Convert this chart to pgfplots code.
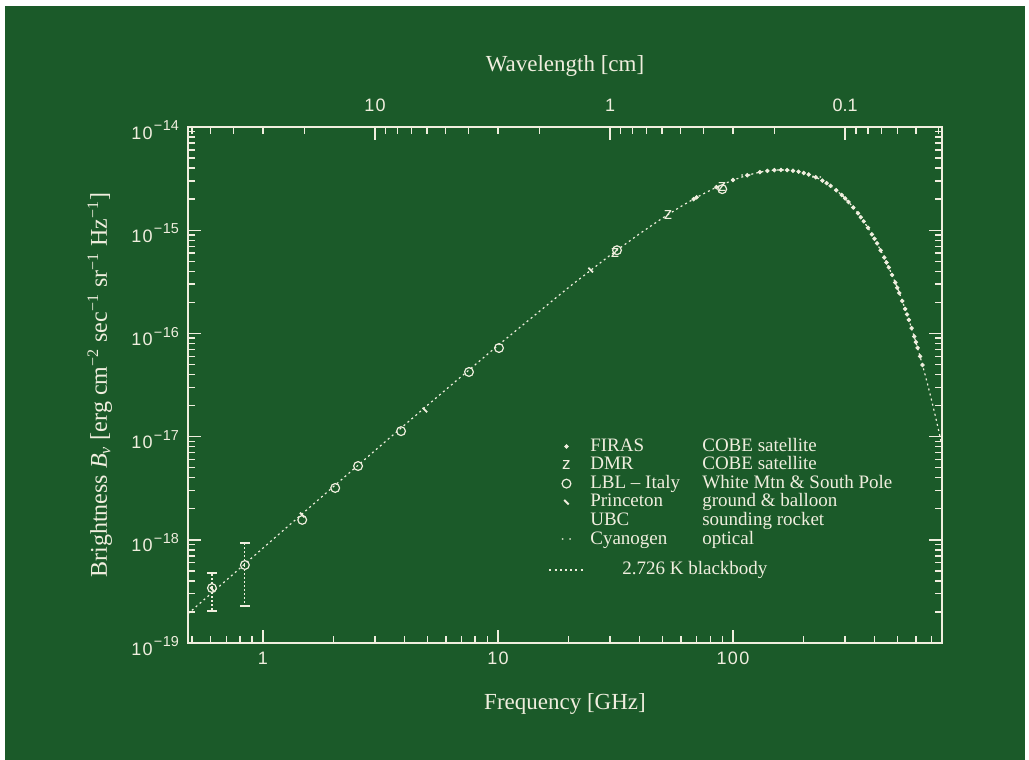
\documentclass[border=0pt]{standalone}
\usepackage{fontspec}
\setmainfont{Liberation Serif}
\newfontfamily\hel{Liberation Sans}
\usepackage{pgfplots}
\pgfplotsset{compat=1.18}
\definecolor{bg}{RGB}{27,90,41}
\definecolor{fg}{RGB}{240,238,222}
\newcommand{\tl}[1]{1\kern0.7pt0\raisebox{4.2pt}{\fontsize{7.2}{7.2}\selectfont\kern0.6pt−\kern0.3pt#1}}

\begin{document}
\begin{tikzpicture}
\path[use as bounding box, fill=white] (-94pt,-58.5pt) rectangle (420.5pt,321.5pt);
\fill[bg] (-91.5pt,-58.5pt) rectangle (418.5pt,318.5pt);
\begin{axis}[
  at={(0pt,0pt)}, anchor=south west,
  scale only axis, width=377pt, height=258pt,
  xmode=log, ymode=log,
  xmin=0.48, xmax=775, ymin=1e-19, ymax=1e-14,
  axis line style={fg, line width=1pt},
  every tick/.style={fg, line width=0.7pt},
  major tick length=6.5pt, minor tick length=3.5pt,
  tick align=inside,
  xtick pos=left,
  xtick={1,10,100}, xticklabels={1,1\kern0.7pt0,1\kern0.7pt0\kern0.7pt0},
  minor xtick={0.5,0.6,0.7,0.8,0.9,2,3,4,5,6,7,8,9,20,30,40,50,60,70,80,90,200,300,400,500,600,700},
  ytick={1e-19,1e-18,1e-17,1e-16,1e-15,1e-14},
  yticklabels={\tl{19},\tl{18},\tl{17},\tl{16},\tl{15},\tl{14}},
  minor ytick={2e-19,3e-19,4e-19,5e-19,6e-19,7e-19,8e-19,9e-19,
               2e-18,3e-18,4e-18,5e-18,6e-18,7e-18,8e-18,9e-18,
               2e-17,3e-17,4e-17,5e-17,6e-17,7e-17,8e-17,9e-17,
               2e-16,3e-16,4e-16,5e-16,6e-16,7e-16,8e-16,9e-16,
               2e-15,3e-15,4e-15,5e-15,6e-15,7e-15,8e-15,9e-15},
  tick label style={font=\hel\fontsize{9}{10}\selectfont, text=fg},
  xticklabel style={yshift=-1pt},
  yticklabel style={xshift=-1pt, yshift=-1.5pt},
  xlabel={Frequency [GHz]},
  xlabel style={at={(axis description cs:0.5,-0.118)}, anchor=center, font=\fontsize{11.5}{13}\selectfont, text=fg},
  ylabel={Brightness \textit{B}\textsubscript{\textit{ν}} [erg cm\textsuperscript{−2} sec\textsuperscript{−1} sr\textsuperscript{−1} Hz\textsuperscript{−1}]},
  ylabel style={at={(axis description cs:-0.117,0.5)}, anchor=center, rotate=0, font=\fontsize{12}{14}\selectfont, text=fg},
  legend cell align=left,
  legend style={at={(rel axis cs:0.478,0.40)}, anchor=north west, draw=none, fill=none, text=fg,
    font=\fontsize{9.5}{10}\selectfont, row sep=-0.1pt, inner sep=0pt,
    nodes={inner sep=0.6pt, text height=6.4pt, text depth=1.8pt}},
]
% 2.726 K blackbody curve
\addplot[fg, line width=0.6pt, dash pattern=on 1pt off 1.6pt, forget plot] coordinates {
(0.48,1.9214e-19) (0.6,2.999e-19) (0.8,5.3224e-19) (1,8.301e-19) (2,3.2914e-18) (3,7.3402e-18)
(5,2.0030e-17) (10,7.659e-17) (20,2.7948e-16) (30,5.7214e-16) (40,9.2308e-16) (50,1.30567e-15)
(60,1.6978e-15) (70,2.0817e-15) (85,2.6125e-15) (100,3.0617e-15) (115,3.4075e-15) (130,3.6551e-15)
(140,3.7597e-15) (150,3.8205e-15) (160,3.8405e-15) (170,3.8237e-15) (180,3.7740e-15) (190,3.6959e-15)
(200,3.5936e-15) (210,3.4714e-15) (225,3.2595e-15) (240,3.0240e-15) (250,2.8594e-15) (260,2.6918e-15)
(275,2.4399e-15) (290,2.1932e-15) (300,2.0341e-15) (310,1.8805e-15) (325,1.6623e-15) (340,1.4604e-15)
(350,1.3354e-15) (360,1.2181e-15) (375,1.0568e-15) (390,9.126e-16) (400,8.2553e-16) (410,7.4538e-16)
(425,6.3743e-16) (440,5.4308e-16) (450,4.8715e-16) (460,4.3632e-16) (475,3.6880e-16) (490,3.1094e-16)
(500,2.7703e-16) (510,2.4652e-16) (525,2.0649e-16) (540,1.7254e-16) (550,1.5288e-16) (560,1.3532e-16)
(575,1.1249e-16) (590,9.3318e-17) (600,8.230e-17) (610,7.2521e-17) (625,5.9898e-17) (640,4.9388e-17)
(650,4.3387e-17) (675,3.1288e-17) (700,2.2470e-17) (725,1.6076e-17) (750,1.1460e-17) (775,8.1424e-18)
};
% LBL points with error bars
\addplot[fg, only marks, mark=o, mark size=2.2pt, mark options={line width=0.6pt}, forget plot,
  error bars/.cd, y dir=both, y explicit,
  error bar style={fg, line width=0.6pt, dash pattern=on 0.8pt off 1.2pt},
  error mark options={fg, rotate=90, mark size=2.5pt, line width=0.7pt, solid}]
coordinates {
(0.607,3.41e-19) += (0,1.35e-19) -= (0,1.37e-19)
(0.838,5.70e-19) += (0,3.61e-19) -= (0,3.41e-19)
};
% FIRAS
\addplot[fg, only marks, mark=*, mark size=0.9pt] coordinates {
(68,2.0e-15) (70,2.0817e-15) (85,2.6125e-15) (100,3.0617e-15) (115,3.4075e-15) (130,3.6551e-15)
(140,3.7597e-15) (150,3.8205e-15) (160,3.8405e-15) (170,3.8237e-15) (180,3.7740e-15) (190,3.6959e-15)
(200,3.5936e-15) (210,3.4714e-15) (225,3.2595e-15) (240,3.0240e-15) (250,2.8594e-15) (260,2.6918e-15)
(275,2.4399e-15) (290,2.1932e-15) (300,2.0341e-15) (310,1.8805e-15) (325,1.6623e-15) (340,1.4604e-15)
(350,1.3354e-15) (360,1.2181e-15) (375,1.0568e-15) (390,9.126e-16) (400,8.2553e-16) (410,7.4538e-16)
(425,6.3743e-16) (440,5.4308e-16) (450,4.8715e-16) (460,4.3632e-16) (475,3.6880e-16) (490,3.1094e-16)
(500,2.7703e-16) (510,2.4652e-16) (525,2.0649e-16) (540,1.7254e-16) (550,1.5288e-16) (560,1.3532e-16)
(575,1.1249e-16) (590,9.3318e-17) (600,8.230e-17) (610,7.2521e-17) (625,5.9898e-17) (640,4.9388e-17)
};
\addlegendentry{\hspace*{2.5pt}\makebox[56pt][l]{FIRAS}COBE satellite}
% DMR
\addplot[fg, only marks, mark=text, text mark={\hel\fontsize{8.5}{8.5}\selectfont\color{fg}z}] coordinates {
(31.5,6.0e-16) (53,1.40e-15) (90,2.6e-15)
};
\addlegendentry{\hspace*{2.5pt}\makebox[56pt][l]{DMR}COBE satellite}
% LBL - Italy
\addplot[fg, only marks, mark=o, mark size=2.2pt, mark options={line width=0.6pt}] coordinates {
(1.47,1.56e-18) (2.03,3.18e-18) (2.54,5.19e-18) (3.87,1.13e-17) (7.53,4.23e-17) (10.1,7.22e-17)
(32.1,6.4e-16) (90,2.5e-15)
};
\addlegendentry{\hspace*{2.5pt}\makebox[56pt][l]{LBL – Italy}White Mtn \& South Pole}
% Princeton
\addplot[fg, only marks, mark=|, mark size=1.6pt, mark options={rotate=45, line width=0.9pt}] coordinates {
(0.61,3.3e-19) (1.47,1.74e-18) (4.89,1.81e-17) (24.8,4.11e-16)
};
\addlegendentry{\hspace*{2.5pt}\makebox[56pt][l]{Princeton}ground \& balloon}
% UBC
\addlegendimage{legend image code/.code={}}
\addlegendentry{\hspace*{2.5pt}\makebox[56pt][l]{UBC}sounding rocket}
% Cyanogen
\addplot[fg, only marks, mark=text, text mark={\fontsize{8}{8}\selectfont\color{fg}$\cdot\,\cdot$}] coordinates {
(113.6,3.35e-15) (227.3,3.23e-15)
};
\addlegendentry{\hspace*{2.5pt}\makebox[56pt][l]{Cyanogen}optical}
\addlegendimage{fg, line width=0.6pt, legend image code/.code={\draw[fg, line width=0.6pt, dash pattern=on 1pt off 1.6pt, yshift=-6pt] (0cm,0cm) -- (0.6cm,0cm);}}
\addlegendentry{\raisebox{-6pt}{\hspace*{18.5pt}2.726 K blackbody}}
\end{axis}
\begin{axis}[
  at={(0pt,0pt)}, anchor=south west,
  scale only axis, width=377pt, height=258pt,
  xmode=log, xmin=0.48, xmax=775, ymin=0, ymax=1,
  axis x line*=top, axis y line=none,
  axis line style={fg, line width=1pt},
  every tick/.style={fg, line width=0.7pt},
  major tick length=6.5pt, minor tick length=3.5pt,
  tick align=inside,
  xtick={2.99792458,29.9792458,299.792458}, xticklabels={1\kern0.7pt0,1,0.1},
  minor xtick={0.4997,0.5996,0.7495,0.9993,1.499,3.331,3.747,4.283,4.997,5.996,7.495,9.993,14.99,
               33.31,37.47,42.83,49.97,59.96,74.95,99.93,149.9,333.1,374.7,428.3,499.7,599.6,749.5},
  tick label style={font=\hel\fontsize{9}{10}\selectfont, text=fg},
  xticklabel style={yshift=4pt},
  xlabel={Wavelength [cm]},
  xlabel style={at={(axis description cs:0.5,1.118)}, anchor=center, font=\fontsize{11.5}{13}\selectfont, text=fg},
]
\end{axis}
\end{tikzpicture}
\end{document}
